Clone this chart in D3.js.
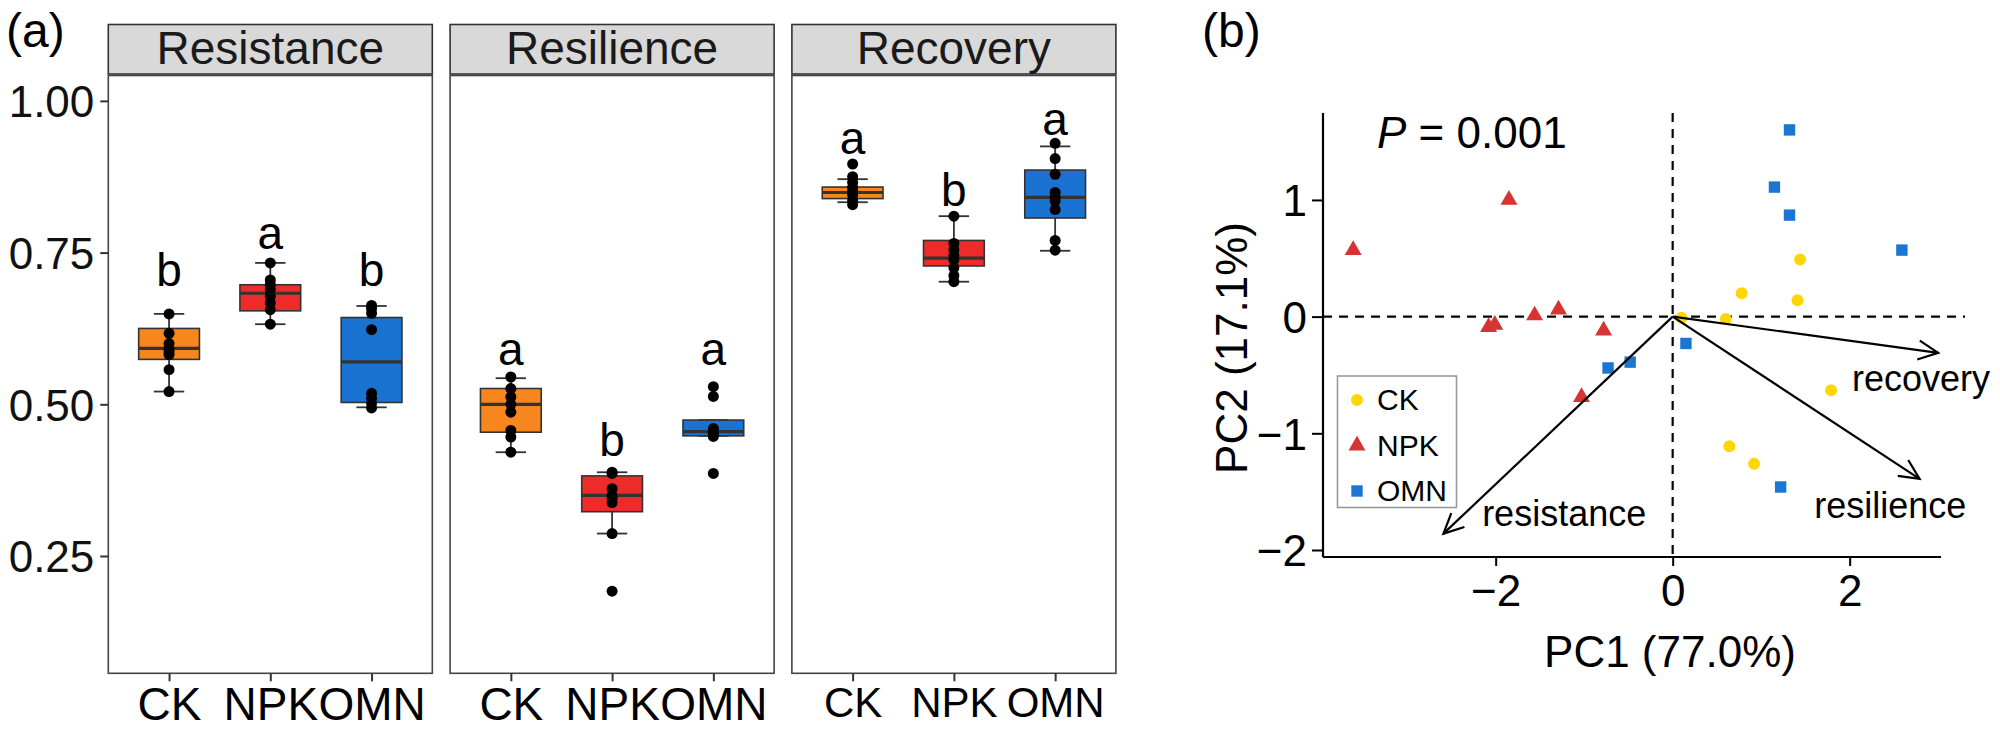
<!DOCTYPE html>
<html><head><meta charset="utf-8">
<script src="https://cdn.jsdelivr.net/npm/d3@7"></script>
<style>body{margin:0;background:#fff}svg{display:block}text{font-family:"Liberation Sans",Arial,sans-serif}</style>
</head><body><svg id="c" width="2000" height="737"></svg>
<script>
// ---------- data: panel (a) ----------
const groups = ["CK", "NPK", "OMN"];
const facets = ["Resistance", "Resilience", "Recovery"];
const boxFill = ["#F7861E", "#EE2B2B", "#1A73D0"];
const yTicksA = [0.25, 0.50, 0.75, 1.00];
// [lower whisker, Q1, median, Q3, upper whisker] per facet, per group
const statsResistance = [[0.521,0.574,0.592,0.625,0.649],[0.632,0.654,0.683,0.697,0.733],[0.495,0.503,0.570,0.643,0.662]];
const statsResilience = [[0.421,0.454,0.500,0.526,0.543],[0.287,0.323,0.350,0.382,0.388],[0.448,0.448,0.455,0.474,0.474]];
const statsRecovery   = [[0.833,0.839,0.849,0.858,0.871],[0.702,0.728,0.741,0.770,0.810],[0.753,0.807,0.841,0.886,0.925]];
const ptsResistance = [[0.649,0.617,0.600,0.592,0.587,0.582,0.557,0.521],[0.733,0.705,0.697,0.689,0.678,0.667,0.656,0.632],[0.663,0.658,0.650,0.623,0.518,0.510,0.502,0.494]];
const ptsResilience = [[0.545,0.526,0.512,0.500,0.487,0.457,0.446,0.421],[0.388,0.386,0.361,0.350,0.345,0.338,0.287,0.192],[0.529,0.513,0.460,0.455,0.452,0.447,0.386]];
const ptsRecovery   = [[0.896,0.875,0.866,0.858,0.852,0.845,0.836,0.829],[0.810,0.765,0.755,0.745,0.738,0.725,0.712,0.702],[0.930,0.905,0.879,0.849,0.841,0.835,0.821,0.770,0.754]];
const lettersResistance = ["b","a","b"], letterYResistance = [0.695,0.7555,0.695];
const lettersResilience = ["a","b","a"], letterYResilience = [0.565,0.414,0.565];
const lettersRecovery   = ["a","b","a"], letterYRecovery   = [0.9126,0.826,0.944];

// ---------- data: panel (b) ----------
const pcaGroups = ["CK", "NPK", "OMN"];
const pcaColors = ["#FFD700", "#D63333", "#1B75D3"];
const ckPC1  = [1.44, 0.78, 1.41, 0.10, 0.60, 1.79, 0.64, 0.92];
const ckPC2  = [0.49, 0.20, 0.14, -0.01, -0.02, -0.63, -1.11, -1.26];
const npkPC1 = [-3.61, -1.85, -2.08, -2.01, -1.56, -1.29, -0.78, -1.03];
const npkPC2 = [0.57, 1.00, -0.09, -0.07, 0.01, 0.06, -0.12, -0.69];
const omnPC1 = [1.32, 1.15, 1.32, 2.59, 0.15, -0.48, -0.73, 1.22];
const omnPC2 = [1.60, 1.11, 0.87, 0.57, -0.23, -0.39, -0.44, -1.46];
const loadNames = ["resistance", "resilience", "recovery"];
const loadPC1 = [-2.59, 2.79, 3.00];
const loadPC2 = [-1.86, -1.39, -0.31];
const loadLabelX = [-1.226, 2.459, 2.806];
const loadLabelY = [-1.791, -1.728, -0.634];
const xTicksB = [-2, 0, 2];
const yTicksB = [-2, -1, 0, 1];

// ---------- drawing ----------
const svg = d3.select("#c");
svg.append("rect").attr("width",2000).attr("height",737).attr("fill","#fff");
const FONT = '"Liberation Sans",Arial,sans-serif';

// ----- panel (a)
svg.append("text").attr("x",6).attr("y",47).attr("font-size",48).attr("fill","#000").text("(a)");
const facetScale = d3.scaleBand().domain(facets).range([108.3, 1115.9]).paddingInner(0.052).paddingOuter(0);
const yA = d3.scaleLinear().domain([0.0567, 1.041]).range([673.3, 76]);
const stripTop = 24.5, panelTop = 74, panelBottom = 673.3;
const facetData = [
  {name:"Resistance", stats:statsResistance, pts:ptsResistance, letters:lettersResistance, ly:letterYResistance, fs:46},
  {name:"Resilience", stats:statsResilience, pts:ptsResilience, letters:lettersResilience, ly:letterYResilience, fs:46},
  {name:"Recovery",   stats:statsRecovery,   pts:ptsRecovery,   letters:lettersRecovery,   ly:letterYRecovery, fs:42}
];
facetData.forEach(f => {
  const x0 = facetScale(f.name), bw = facetScale.bandwidth();
  const g = svg.append("g");
  // strip
  g.append("rect").attr("x",x0).attr("y",stripTop).attr("width",bw).attr("height",panelTop-stripTop)
    .attr("fill","#D9D9D9").attr("stroke","#333").attr("stroke-width",1.6);
  g.append("text").attr("x",x0+bw/2).attr("y",64).attr("text-anchor","middle").attr("font-size",46).attr("fill","#1a1a1a").text(f.name);
  // panel
  g.append("rect").attr("x",x0).attr("y",panelTop+1.5).attr("width",bw).attr("height",panelBottom-panelTop-1.5)
    .attr("fill","#fff").attr("stroke","#444").attr("stroke-width",1.6);
  const xg = d3.scalePoint().domain(groups).range([x0, x0+bw]).padding(0.6);
  const step = xg.step();
  // x axis
  const ax = g.append("g").attr("transform",`translate(0,${panelBottom})`).call(d3.axisBottom(xg).tickSize(8).tickPadding(12));
  ax.select(".domain").remove();
  ax.selectAll(".tick line").attr("stroke","#333").attr("stroke-width",2);
  ax.selectAll(".tick text").attr("font-size",f.fs).attr("fill","#000").attr("font-family",FONT).attr("dy","0.71em").attr("y",14);
  groups.forEach((gr,i) => {
    const cx = xg(gr), s = f.stats[i];
    const bwBox = step*0.6, capW = step*0.3;
    // whisker line + caps
    g.append("line").attr("x1",cx).attr("x2",cx).attr("y1",yA(s[0])).attr("y2",yA(s[4])).attr("stroke","#333").attr("stroke-width",1.8);
    [s[0], s[4]].forEach(v => g.append("line").attr("x1",cx-capW/2).attr("x2",cx+capW/2).attr("y1",yA(v)).attr("y2",yA(v)).attr("stroke","#333").attr("stroke-width",1.8));
    // box
    g.append("rect").attr("x",cx-bwBox/2).attr("y",yA(s[3])).attr("width",bwBox).attr("height",yA(s[1])-yA(s[3]))
      .attr("fill",boxFill[i]).attr("stroke","#333").attr("stroke-width",1.6);
    g.append("line").attr("x1",cx-bwBox/2).attr("x2",cx+bwBox/2).attr("y1",yA(s[2])).attr("y2",yA(s[2])).attr("stroke","#333").attr("stroke-width",3.2);
    // points
    g.selectAll(null).data(f.pts[i]).enter().append("circle").attr("cx",cx).attr("cy",d=>yA(d)).attr("r",5.5).attr("fill","#000");
    // letters
    g.append("text").attr("x",cx).attr("y",yA(f.ly[i])).attr("text-anchor","middle").attr("font-size",46).attr("fill","#000").text(f.letters[i]);
  });
});
// y axis of panel (a)
const ayA = svg.append("g").attr("transform",`translate(${facetScale("Resistance")},0)`)
  .call(d3.axisLeft(yA).tickValues(yTicksA).tickFormat(d3.format(".2f")).tickSize(8).tickPadding(6));
ayA.select(".domain").remove();
ayA.selectAll(".tick line").attr("stroke","#333").attr("stroke-width",2);
ayA.selectAll(".tick text").attr("font-size",44).attr("fill","#111").attr("font-family",FONT).attr("dy","0.36em");

// ----- panel (b)
svg.append("text").attr("x",1202).attr("y",47).attr("font-size",48).attr("fill","#000").text("(b)");
const xB = d3.scaleLinear().domain([-3.951, 3.032]).range([1323, 1941]);
const yB = d3.scaleLinear().domain([-2.06, 1.745]).range([557, 113]);
// axes (L-shaped box)
svg.append("line").attr("x1",xB.range()[0]).attr("x2",xB.range()[1]).attr("y1",557).attr("y2",557).attr("stroke","#000").attr("stroke-width",2.2);
svg.append("line").attr("x1",1323).attr("x2",1323).attr("y1",yB.range()[0]).attr("y2",yB.range()[1]).attr("stroke","#000").attr("stroke-width",2.2);
const axB = svg.append("g").attr("transform","translate(0,557)").call(d3.axisBottom(xB).tickValues(xTicksB).tickFormat(d=>d3.format("d")(d).replace("-","\u2212")).tickSize(9).tickPadding(10));
axB.select(".domain").remove();
axB.selectAll(".tick line").attr("stroke","#000").attr("stroke-width",2);
axB.selectAll(".tick text").attr("font-size",44).attr("fill","#000").attr("font-family",FONT).attr("dy","0.71em").attr("y",18);
const ayB = svg.append("g").attr("transform","translate(1323,0)").call(d3.axisLeft(yB).tickValues(yTicksB).tickFormat(d=>d3.format("d")(d).replace("-","\u2212")).tickSize(11).tickPadding(5));
ayB.select(".domain").remove();
ayB.selectAll(".tick line").attr("stroke","#000").attr("stroke-width",2);
ayB.selectAll(".tick text").attr("font-size",44).attr("fill","#000").attr("font-family",FONT).attr("dy","0.36em");
// axis titles
svg.append("text").attr("x",1670).attr("y",667).attr("text-anchor","middle").attr("font-size",44).attr("fill","#000").text("PC1 (77.0%)");
svg.append("text").attr("transform","translate(1247,348) rotate(-90)").attr("text-anchor","middle").attr("font-size",44).attr("fill","#000").text("PC2 (17.1%)");
// dashed reference lines
svg.append("line").attr("x1",1323).attr("x2",1965).attr("y1",yB(0)).attr("y2",yB(0)).attr("stroke","#000").attr("stroke-width",2.2).attr("stroke-dasharray","9,7");
svg.append("line").attr("x1",xB(0)).attr("x2",xB(0)).attr("y1",113).attr("y2",557).attr("stroke","#000").attr("stroke-width",2.2).attr("stroke-dasharray","9,7");
// P value
const pt = svg.append("text").attr("x",1377).attr("y",148).attr("font-size",44).attr("fill","#000");
pt.append("tspan").attr("font-style","italic").text("P");
pt.append("tspan").text(" = 0.001");
// points
const sym = [d3.symbolCircle, d3.symbolTriangle, d3.symbolSquare];
const symSize = [113, 125, 130];
const pcaSets = [[ckPC1, ckPC2], [npkPC1, npkPC2], [omnPC1, omnPC2]];
pcaSets.forEach((s,i) => {
  const pts = s[0].map((v,j) => [v, s[1][j]]);
  svg.selectAll(null).data(pts).enter().append("path")
    .attr("d", d3.symbol().type(sym[i]).size(symSize[i]))
    .attr("transform", d => `translate(${xB(d[0])},${yB(d[1])})`)
    .attr("fill", pcaColors[i]);
});
// loading arrows
const ox = xB(0), oy = yB(0);
loadNames.forEach((n,i) => {
  const ex = xB(loadPC1[i]), ey = yB(loadPC2[i]);
  const ang = Math.atan2(ey-oy, ex-ox), L = 22, a = Math.PI/7;
  svg.append("line").attr("x1",ox).attr("y1",oy).attr("x2",ex).attr("y2",ey).attr("stroke","#000").attr("stroke-width",2.2);
  svg.append("path").attr("d",`M${ex-L*Math.cos(ang-a)},${ey-L*Math.sin(ang-a)}L${ex},${ey}L${ex-L*Math.cos(ang+a)},${ey-L*Math.sin(ang+a)}`)
    .attr("fill","none").attr("stroke","#000").attr("stroke-width",2.2);
  svg.append("text").attr("x",xB(loadLabelX[i])).attr("y",yB(loadLabelY[i])).attr("text-anchor","middle").attr("font-size",36).attr("fill","#000").text(n);
});
// legend
const lg = svg.append("g");
lg.append("rect").attr("x",1337.5).attr("y",376).attr("width",119).attr("height",131.5).attr("fill","#fff").attr("stroke","#999").attr("stroke-width",1.6);
pcaGroups.forEach((gname,i) => {
  const cy = 400 + i*45.5;
  lg.append("path").attr("d", d3.symbol().type(sym[i]).size(symSize[i])).attr("transform",`translate(1357,${cy})`).attr("fill",pcaColors[i]);
  lg.append("text").attr("x",1377).attr("y",cy+10).attr("font-size",30).attr("fill","#000").text(gname);
});
</script></body></html>
